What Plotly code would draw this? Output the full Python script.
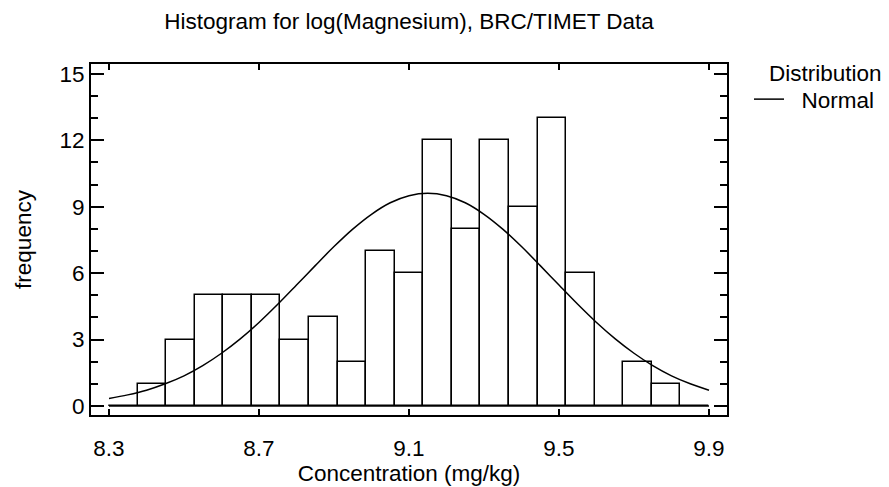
import plotly.graph_objects as go

# Histogram bins (21 bins from 8.3 to 9.9)
bin_start = 8.3
bin_end = 9.9
counts = [0, 1, 3, 5, 5, 5, 3, 4, 2, 7, 6, 12, 8, 12, 9, 13, 6, 0, 2, 1, 0]
nbins = len(counts)
bin_width = (bin_end - bin_start) / nbins
bin_centers = [bin_start + bin_width * (i + 0.5) for i in range(nbins)]

# Fitted normal curve
curve_x = [8.30, 8.35, 8.40, 8.45, 8.50, 8.55, 8.60, 8.65, 8.70, 8.75, 8.80,
           8.85, 8.90, 8.95, 9.00, 9.05, 9.10, 9.15, 9.20, 9.25, 9.30, 9.35,
           9.40, 9.45, 9.50, 9.55, 9.60, 9.65, 9.70, 9.75, 9.80, 9.85, 9.90]
curve_y = [0.34, 0.50, 0.71, 1.00, 1.36, 1.82, 2.38, 3.03, 3.77, 4.59, 5.46,
           6.34, 7.20, 7.99, 8.66, 9.18, 9.50, 9.61, 9.50, 9.18, 8.66, 7.99,
           7.20, 6.34, 5.46, 4.59, 3.77, 3.03, 2.38, 1.82, 1.36, 1.00, 0.71]

x_ticks = [8.3, 8.7, 9.1, 9.5, 9.9]
y_ticks = [0, 3, 6, 9, 12, 15]

FONT = "Liberation Sans, Arial, sans-serif"
FS = 22.5

# page body has an 8px margin, so the figure is drawn 8px smaller/shifted
W, H = 881, 479
ML, MR, MT, MB = 83, 162, 56, 72
PW = W - ML - MR
PH = H - MT - MB

fig = go.Figure()
fig.add_trace(go.Bar(
    x=bin_centers, y=counts, width=bin_width,
    marker=dict(color="white", line=dict(color="black", width=1.5)),
    showlegend=False, hoverinfo="skip",
))
# baseline along the histogram extent
fig.add_trace(go.Scatter(
    x=[bin_start, bin_end], y=[0, 0], mode="lines",
    line=dict(color="black", width=1.5), showlegend=False, hoverinfo="skip",
))
fig.add_trace(go.Scatter(
    x=curve_x, y=curve_y, mode="lines", name="\u00a0\u00a0Normal",
    line=dict(color="black", width=1.5, shape="spline"),
))

fig.update_layout(
    width=W, height=H,
    paper_bgcolor="white", plot_bgcolor="white",
    margin=dict(l=ML, r=MR, t=MT, b=MB, autoexpand=False),
    font=dict(family=FONT, size=FS, color="black"),
    title=dict(text="Histogram for log(Magnesium), BRC/TIMET Data",
               x=0.5, xref="paper", xanchor="center",
               y=1 - 13 / H, yanchor="middle",
               font=dict(size=FS), automargin=False),
    bargap=0,
    legend=dict(
        x=(749 - 8 - ML) / PW, xanchor="left",
        y=1 - (78 - 8 - MT) / PH, yanchor="top",
        xref="paper", yref="paper",
        font=dict(size=FS), bgcolor="rgba(0,0,0,0)",
        tracegroupgap=0, itemwidth=30,
    ),
    annotations=[dict(text="Distribution", xref="paper", yref="paper",
                      x=(884 - 8 - ML) / PW, xanchor="right",
                      y=1 - (74 - 8 - MT) / PH, yanchor="middle",
                      showarrow=False, font=dict(size=FS))],
)
fig.update_xaxes(
    range=[8.252, 9.948], tickvals=x_ticks, ticktext=[str(v) for v in x_ticks],
    showgrid=False, zeroline=False, showline=True, linecolor="black",
    linewidth=2, mirror="allticks", ticks="inside", ticklen=6, tickwidth=1.5,
    tickcolor="black", automargin=False, tickfont=dict(size=FS),
    ticklabelstandoff=12,
    title=dict(text="Concentration (mg/kg)", font=dict(size=FS), standoff=0),
)
fig.update_yaxes(
    range=[-0.41, 15.45], tickvals=y_ticks,
    showgrid=False, zeroline=False, showline=True, linecolor="black",
    linewidth=2, mirror="allticks", ticks="inside", ticklen=13, tickwidth=1.5,
    tickcolor="black", automargin=False, tickfont=dict(size=FS),
    minor=dict(dtick=1, tick0=0, ticks="inside", ticklen=7, tickwidth=1.5,
               tickcolor="black", showgrid=False),
    title=dict(text="frequency", font=dict(size=FS), standoff=22),
)

fig.write_html("out.html")
